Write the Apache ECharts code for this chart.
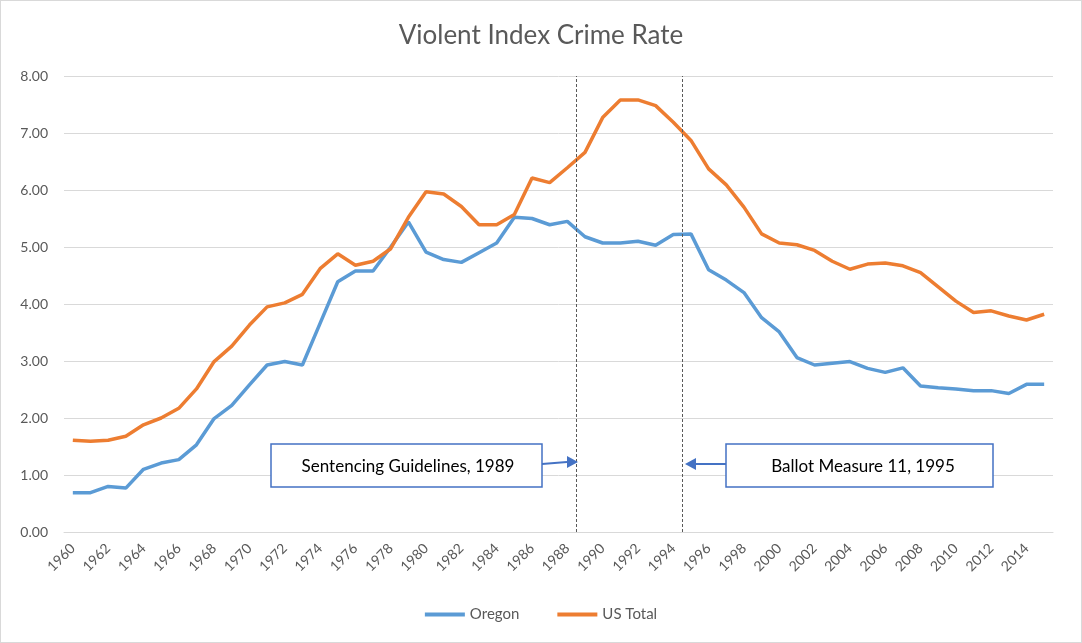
<!DOCTYPE html>
<html>
<head>
<meta charset="utf-8">
<script src="https://cdn.jsdelivr.net/npm/echarts@6/dist/echarts.min.js"></script>
<style>
  html, body { margin: 0; padding: 0; background: #fff; }
  #chart { width: 1082px; height: 643px; box-sizing: border-box; border: 1px solid #d9d9d9; }
</style>
</head>
<body>
<div id="chart"></div>
<script>
// years 1960 - 2015
const years = [];
for (let y = 1960; y <= 2015; y++) years.push(String(y));

const oregon = [
  0.69, 0.69, 0.80, 0.77, 1.10, 1.21, 1.27, 1.53, 1.99, 2.22,
  2.58, 2.93, 2.99, 2.93, 3.66, 4.39, 4.58, 4.58, 5.00, 5.44,
  4.91, 4.78, 4.73, 4.90, 5.07, 5.52, 5.50, 5.39, 5.45, 5.18,
  5.07, 5.07, 5.10, 5.03, 5.22, 5.23, 4.60, 4.42, 4.20, 3.76,
  3.51, 3.06, 2.93, 2.96, 2.99, 2.87, 2.80, 2.88, 2.56, 2.53,
  2.51, 2.48, 2.48, 2.43, 2.59, 2.59
];
const usTotal = [
  1.61, 1.59, 1.61, 1.68, 1.88, 2.00, 2.17, 2.51, 2.99, 3.26,
  3.63, 3.95, 4.02, 4.17, 4.62, 4.88, 4.68, 4.75, 4.97, 5.52,
  5.97, 5.93, 5.71, 5.39, 5.39, 5.57, 6.21, 6.13, 6.39, 6.66,
  7.27, 7.58, 7.58, 7.48, 7.19, 6.87, 6.37, 6.09, 5.70, 5.23,
  5.07, 5.04, 4.94, 4.75, 4.61, 4.70, 4.72, 4.67, 4.55, 4.30,
  4.05, 3.85, 3.88, 3.79, 3.72, 3.82
];
// policy markers (drawn between the year categories)
const markerYears = [1988.5, 1994.5];

const font = 'Lato, "Liberation Sans", sans-serif';
const gray = '#595959';

let myChart = echarts.init(document.getElementById('chart'));
myChart.setOption({
  animation: false,
  title: {
    text: 'Violent Index Crime Rate',
    left: 'center',
    top: 17,
    textStyle: { fontFamily: font, fontSize: 26, fontWeight: 'normal', color: gray }
  },
  legend: {
    bottom: 15,
    left: 'center',
    icon: 'rect',
    itemWidth: 40,
    itemHeight: 4,
    itemGap: 38,
    data: ['Oregon', 'US Total'],
    textStyle: { fontFamily: font, fontSize: 15, color: gray }
  },
  grid: { left: 63, right: 28, top: 75, bottom: 110, containLabel: false },
  xAxis: [
    {
      type: 'category',
      data: years,
      boundaryGap: true,
      axisLine: { lineStyle: { color: '#d9d9d9' } },
      axisTick: { show: false },
      axisLabel: { interval: 1, rotate: 45, margin: 14, fontFamily: font, fontSize: 14, color: gray }
    },
    { type: 'value', min: 1959.5, max: 2015.5, show: false }
  ],
  yAxis: {
    type: 'value',
    min: 0,
    max: 8,
    interval: 1,
    axisLine: { show: false },
    axisTick: { show: false },
    splitLine: { lineStyle: { color: '#d9d9d9' } },
    axisLabel: {
      margin: 16,
      fontFamily: font, fontSize: 14, color: gray,
      formatter: v => v.toFixed(2)
    }
  },
  series: [
    {
      name: 'Oregon', type: 'line', data: oregon,
      showSymbol: false, symbol: 'none',
      lineStyle: { width: 3.5, color: '#5B9BD5' }, itemStyle: { color: '#5B9BD5' }
    },
    {
      name: 'US Total', type: 'line', data: usTotal,
      showSymbol: false, symbol: 'none',
      lineStyle: { width: 3.5, color: '#ED7D31' }, itemStyle: { color: '#ED7D31' }
    },
    {
      name: 'markers', type: 'line', xAxisIndex: 1,
      data: markerYears.map(x => [x, 0]),
      symbol: 'none', lineStyle: { opacity: 0 }, silent: true,
      markLine: {
        silent: true, symbol: 'none',
        label: { show: false },
        lineStyle: { color: gray, type: [3, 2], width: 1 },
        data: markerYears.map(x => ({ xAxis: x }))
      }
    }
  ],
  graphic: [
    {
      type: 'rect', shape: { x: 270, y: 443, width: 271, height: 43 },
      style: { fill: '#fff', stroke: '#4472C4', lineWidth: 1.5 }, z: 10
    },
    {
      type: 'text', x: 407, y: 466, z: 11,
      style: { text: 'Sentencing Guidelines, 1989', fontFamily: font, fontSize: 17, fill: '#000', align: 'center', verticalAlign: 'middle' }
    },
    {
      type: 'line', shape: { x1: 541, y1: 463, x2: 566, y2: 461 },
      style: { stroke: '#4472C4', lineWidth: 2 }, z: 10
    },
    {
      type: 'polygon', shape: { points: [[566, 455], [577, 461], [566, 467]] },
      style: { fill: '#4472C4' }, z: 10
    },
    {
      type: 'rect', shape: { x: 725, y: 443, width: 267, height: 43 },
      style: { fill: '#fff', stroke: '#4472C4', lineWidth: 1.5 }, z: 10
    },
    {
      type: 'text', x: 862, y: 466, z: 11,
      style: { text: 'Ballot Measure 11, 1995', fontFamily: font, fontSize: 17, fill: '#000', align: 'center', verticalAlign: 'middle' }
    },
    {
      type: 'line', shape: { x1: 725, y1: 463, x2: 695, y2: 463 },
      style: { stroke: '#4472C4', lineWidth: 2 }, z: 10
    },
    {
      type: 'polygon', shape: { points: [[695, 457], [684, 463], [695, 469]] },
      style: { fill: '#4472C4' }, z: 10
    }
  ]
});
</script>
</body>
</html>
